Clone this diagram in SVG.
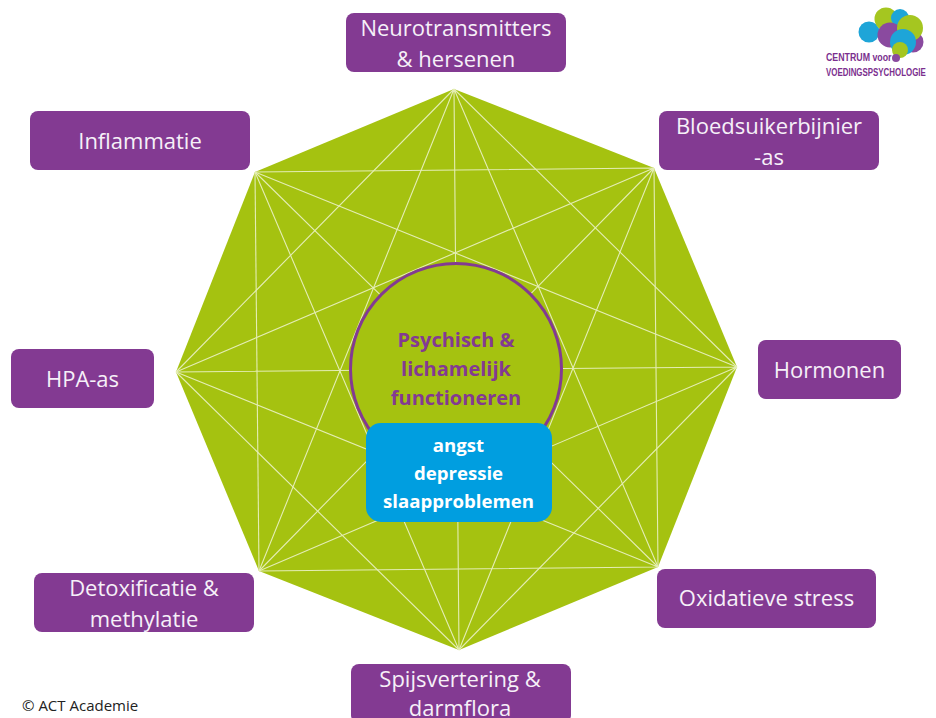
<svg xmlns="http://www.w3.org/2000/svg" width="936" height="718" viewBox="0 0 936 718">
<style>
.box{fill:#833a92}
.lbl{font-family:"Open Sans","Liberation Sans",sans-serif;font-size:22px;fill:#f6f0f8;text-anchor:middle}
.b{font-family:"Open Sans","Liberation Sans",sans-serif;font-size:18.6px;font-weight:700;text-anchor:middle}
.p{font-size:20px}
.d{stroke:#e4edb4;stroke-width:1.1;fill:none}
.lg{font-family:"Liberation Sans","Open Sans",sans-serif;font-size:11px;font-weight:700;fill:#7b2f8e}
</style>
<rect width="936" height="718" fill="#fff"/>
<polygon points="454,89 654,168 737,367 658,567 459,650 259,571 176,372 255,172" fill="#a5c210"/>
<g id="connectors" class="d">
<path d="M454,89L737,367M454,89L658,567M454,89L459,650M454,89L259,571M454,89L176,372"/>
<path d="M654,168L658,567M654,168L459,650M654,168L259,571M654,168L176,372M654,168L255,172"/>
<path d="M737,367L459,650M737,367L259,571M737,367L176,372M737,367L255,172"/>
<path d="M658,567L259,571M658,567L176,372M658,567L255,172"/>
<path d="M459,650L176,372M459,650L255,172"/>
<path d="M259,571L255,172"/>
</g>
<g id="centre"><circle cx="456" cy="369" r="105.500" fill="#a5c210" stroke="#833a92" stroke-width="3"/>
<text class="b p" x="456" y="347" fill="#833a92">Psychisch &amp;</text>
<text class="b p" x="456" y="376" fill="#833a92">lichamelijk</text>
<text class="b p" x="456" y="405" fill="#833a92">functioneren</text></g>
<g id="klachten"><rect x="366" y="423" width="186" height="99" rx="15" fill="#009ee0"/>
<text class="b" x="458.500" y="452" fill="#fff">angst</text>
<text class="b" x="458.500" y="480" fill="#fff">depressie</text>
<text class="b" x="458.500" y="508" fill="#fff">slaapproblemen</text></g>
<g id="neurotransmitters"><rect class="box" x="346" y="13" width="220" height="59" rx="8"/>
<text class="lbl" x="456" y="36">Neurotransmitters</text><text class="lbl" x="456" y="67">&amp; hersenen</text></g>
<g id="inflammatie"><rect class="box" x="30" y="111" width="220" height="59" rx="8"/>
<text class="lbl" x="140" y="149">Inflammatie</text></g>
<g id="bloedsuiker"><rect class="box" x="659" y="111" width="220" height="59" rx="8"/>
<text class="lbl" x="769" y="134">Bloedsuikerbijnier</text><text class="lbl" x="769" y="165">-as</text></g>
<g id="hormonen"><rect class="box" x="758" y="340" width="143" height="59" rx="8"/>
<text class="lbl" x="829.500" y="378">Hormonen</text></g>
<g id="hpa"><rect class="box" x="11" y="349" width="143" height="59" rx="8"/>
<text class="lbl" x="82.500" y="387">HPA-as</text></g>
<g id="detox"><rect class="box" x="34" y="573" width="220" height="59" rx="8"/>
<text class="lbl" x="144" y="596">Detoxificatie &amp;</text><text class="lbl" x="144" y="627">methylatie</text></g>
<g id="oxidatief"><rect class="box" x="657" y="569" width="219" height="59" rx="8"/>
<text class="lbl" x="766.500" y="606">Oxidatieve stress</text></g>
<g id="spijsvertering"><rect class="box" x="351" y="664" width="220" height="59" rx="8"/>
<text class="lbl" x="460" y="687">Spijsvertering &amp;</text><text class="lbl" x="460" y="716">darmflora</text></g>
<g id="logo">
<circle cx="869" cy="32" r="10.500" fill="#1ea5d8"/>
<circle cx="886" cy="19" r="11.500" fill="#a5c620"/>
<circle cx="900" cy="18" r="9" fill="#1ea5d8"/>
<circle cx="890" cy="35" r="12.500" fill="#8a4a9f"/>
<circle cx="913" cy="42" r="10.500" fill="#8a4a9f"/>
<circle cx="910" cy="28" r="13" fill="#a5c620"/>
<circle cx="903" cy="42" r="13" fill="#1ea5d8"/>
<circle cx="900" cy="50" r="8" fill="#a5c620"/>
<circle cx="896" cy="58" r="4" fill="#8a4a9f"/>
<text class="lg" transform="translate(826 61) scale(.8 1)">CENTRUM voor</text>
<text class="lg" transform="translate(826 76) scale(.72 1)">VOEDINGSPSYCHOLOGIE</text>
</g>
<text id="copyright" x="22" y="711" font-family="'Open Sans','Liberation Sans',sans-serif" font-size="15" fill="#222">© ACT Academie</text>
</svg>
